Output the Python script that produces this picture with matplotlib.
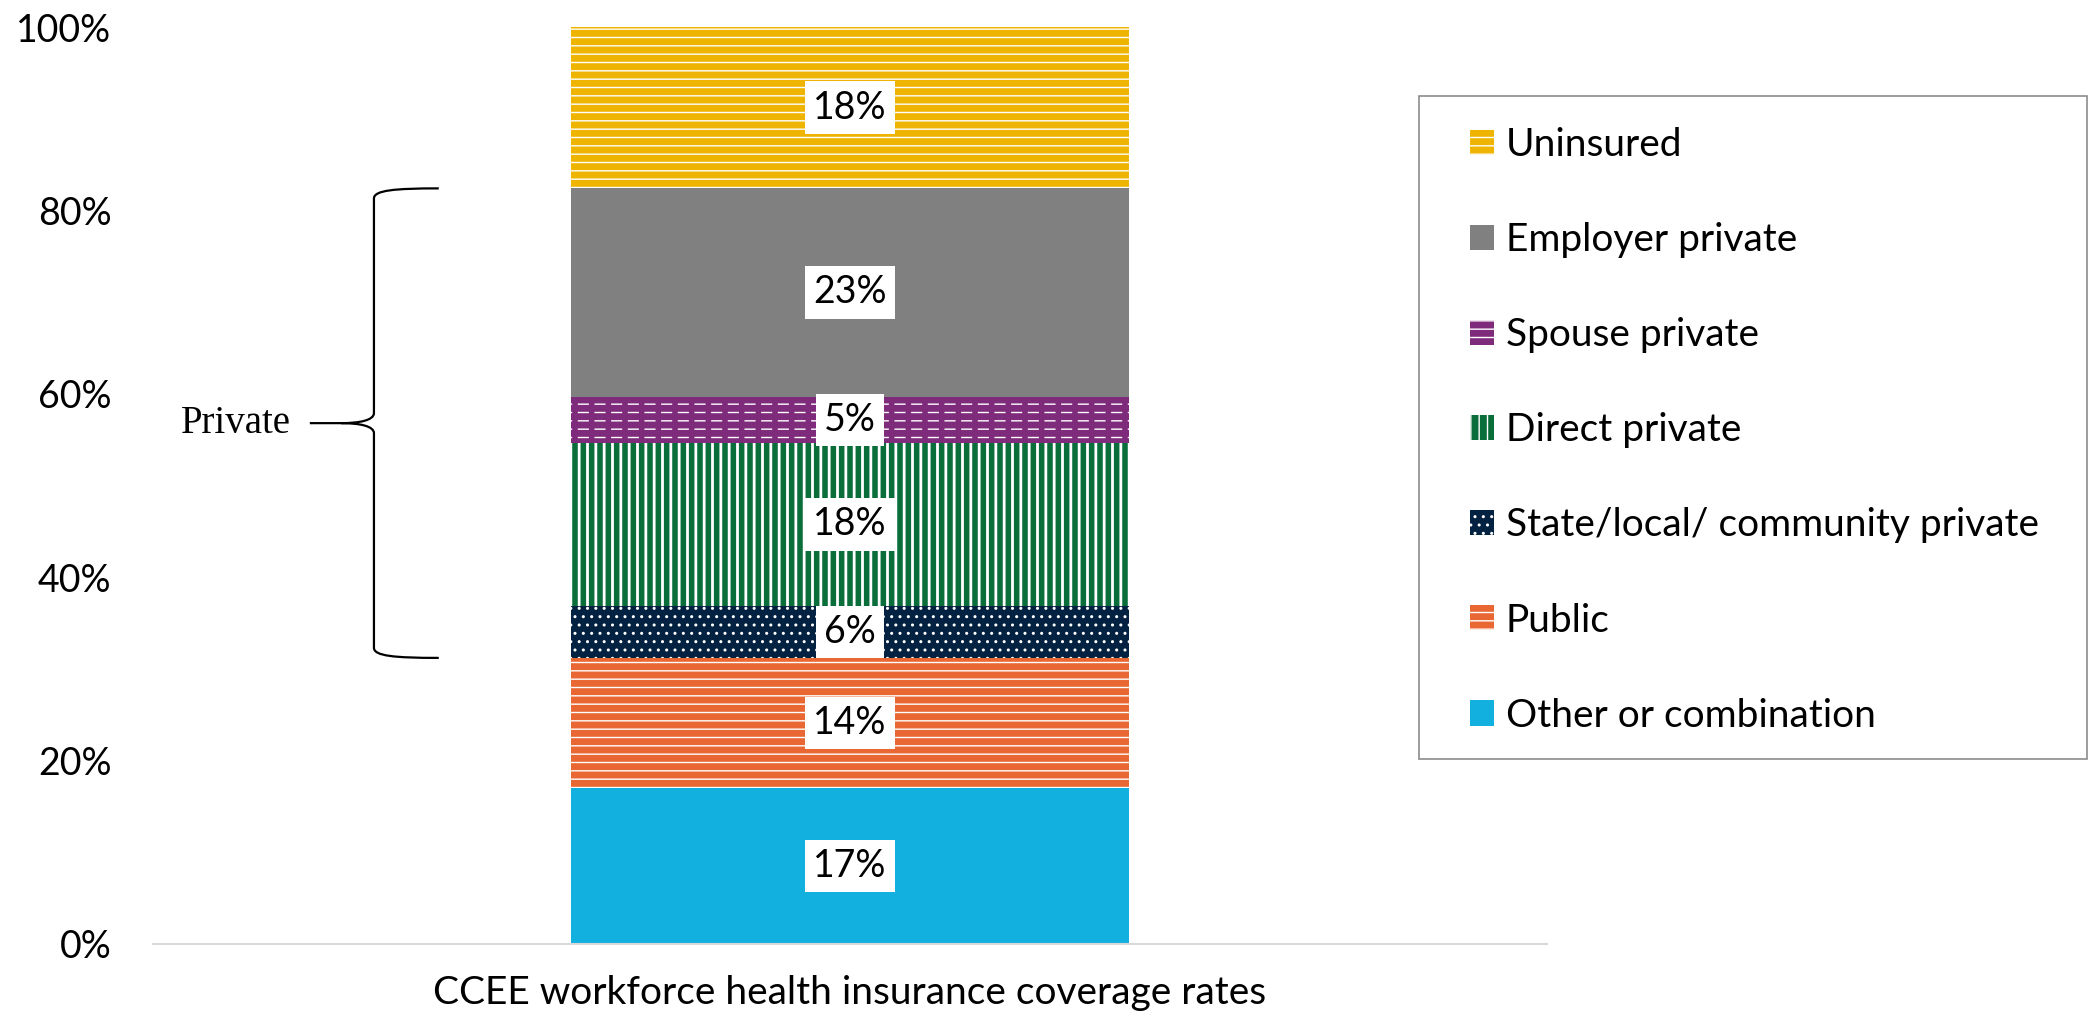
import matplotlib
matplotlib.use("Agg")
import matplotlib.pyplot as plt
from matplotlib.patches import Rectangle, PathPatch
from matplotlib.path import Path

# data (bottom to top of the stack)
categories = ["Other or combination", "Public", "State/local/ community private",
              "Direct private", "Spouse private", "Employer private", "Uninsured"]
shares = [0.170, 0.142, 0.057, 0.177, 0.051, 0.227, 0.176]
share_labels = ["17%", "14%", "6%", "18%", "5%", "23%", "18%"]
bar_label = "CCEE workforce health insurance coverage rates"
y_ticks = [0, 0.2, 0.4, 0.6, 0.8, 1.0]
y_tick_labels = ["0%", "20%", "40%", "60%", "80%", "100%"]
bracket_text = "Private"
bracket_first, bracket_last = 2, 5   # State/local .. Employer

colors = ["#12B0DF", "#E86733", "#032241", "#0A6E3A", "#7E2B7B", "#808080", "#EEB400"]
hatches = [None, "--", "..", "||", "--", None, "--"]

plt.rcParams["font.family"] = ["Lato", "DejaVu Sans"]
plt.rcParams["hatch.linewidth"] = 1.0

fig = plt.figure(figsize=(20.9, 10.17), dpi=100)
ax = fig.add_axes([153 / 2090, 1 - 944 / 1017, 1394 / 2090, 917 / 1017])

bottom = 0.0
bars = []
for i, (name, val) in enumerate(zip(categories, shares)):
    b = ax.bar(0, val, width=0.8, bottom=bottom, color=colors[i],
               hatch=hatches[i], edgecolor="white", linewidth=0, label=name)
    if name == "Direct private":
        for p in b.patches:
            if hasattr(p, "set_hatch_linewidth"):
                p.set_hatch_linewidth(2.0)
    if name == "Spouse private":
        # break the white lines into dashes
        ov = ax.bar(0, val, width=0.8, bottom=bottom, color="none",
                    hatch="|", edgecolor=colors[i], linewidth=0)
        for p in ov.patches:
            if hasattr(p, "set_hatch_linewidth"):
                p.set_hatch_linewidth(4.0)
    bars.append(b)
    ax.text(0, bottom + val / 2, share_labels[i], ha="center", va="center",
            fontsize=27, color="black",
            bbox=dict(boxstyle="square,pad=0.22", fc="white", ec="none"))
    bottom += val

ax.set_xlim(-1, 1)
ax.set_ylim(0, 1)
ax.set_yticks(y_ticks)
ax.set_yticklabels(y_tick_labels)
ax.set_xticks([0])
ax.set_xticklabels([bar_label], fontsize=28)
ax.tick_params(axis="y", length=0, pad=30, labelsize=27)
ax.tick_params(axis="x", length=0, pad=22)
for s in ["top", "right", "left"]:
    ax.spines[s].set_visible(False)
ax.spines["bottom"].set_color("#D9D9D9")
ax.spines["bottom"].set_linewidth(1.5)

# curly bracket for the private group
y_lo = sum(shares[:bracket_first])
y_hi = sum(shares[:bracket_last + 1])
y_md = (y_lo + y_hi) / 2
x_end, x_mid, x_neck, x_tip = -0.590, -0.683, -0.730, -0.775
d = 0.011
verts = [
    (x_end, y_hi), (x_mid + 0.03, y_hi), (x_mid, y_hi - 0.002), (x_mid, y_hi - d),
    (x_mid, y_md + d),
    (x_mid, y_md + 0.3 * d), (x_mid - 0.02, y_md), (x_neck, y_md),
    (x_tip, y_md),
    (x_neck, y_md),
    (x_mid - 0.02, y_md), (x_mid, y_md - 0.3 * d), (x_mid, y_md - d),
    (x_mid, y_lo + d),
    (x_mid, y_lo + 0.002), (x_mid + 0.03, y_lo), (x_end, y_lo),
]
codes = [Path.MOVETO, Path.CURVE4, Path.CURVE4, Path.CURVE4,
         Path.LINETO,
         Path.CURVE4, Path.CURVE4, Path.CURVE4,
         Path.LINETO,
         Path.MOVETO,
         Path.CURVE4, Path.CURVE4, Path.CURVE4,
         Path.LINETO,
         Path.CURVE4, Path.CURVE4, Path.CURVE4]
ax.add_patch(PathPatch(Path(verts, codes), fc="none", ec="black", lw=1.6,
                       clip_on=False))
ax.text(x_tip - 0.027, y_md, bracket_text, ha="right", va="center",
        fontsize=28, family=["Liberation Serif", "DejaVu Serif"])

# legend, drawn in a plain box
fig.add_artist(Rectangle((1419 / 2090, 1 - 759 / 1017), 668 / 2090, 663 / 1017,
                         transform=fig.transFigure, fc="none", ec="#8C8C8C",
                         lw=1.2))
handles = [b.patches[0] for b in bars][::-1]
labels = categories[::-1]
fig.legend(handles, labels, loc="upper left",
           bbox_to_anchor=(1470 / 2090, 1 - 127 / 1017),
           frameon=False, fontsize=28, borderpad=0, borderaxespad=0,
           handlelength=0.62, handleheight=0.62, handletextpad=0.3,
           labelspacing=1.52)

fig.savefig("out.png", dpi=100)
